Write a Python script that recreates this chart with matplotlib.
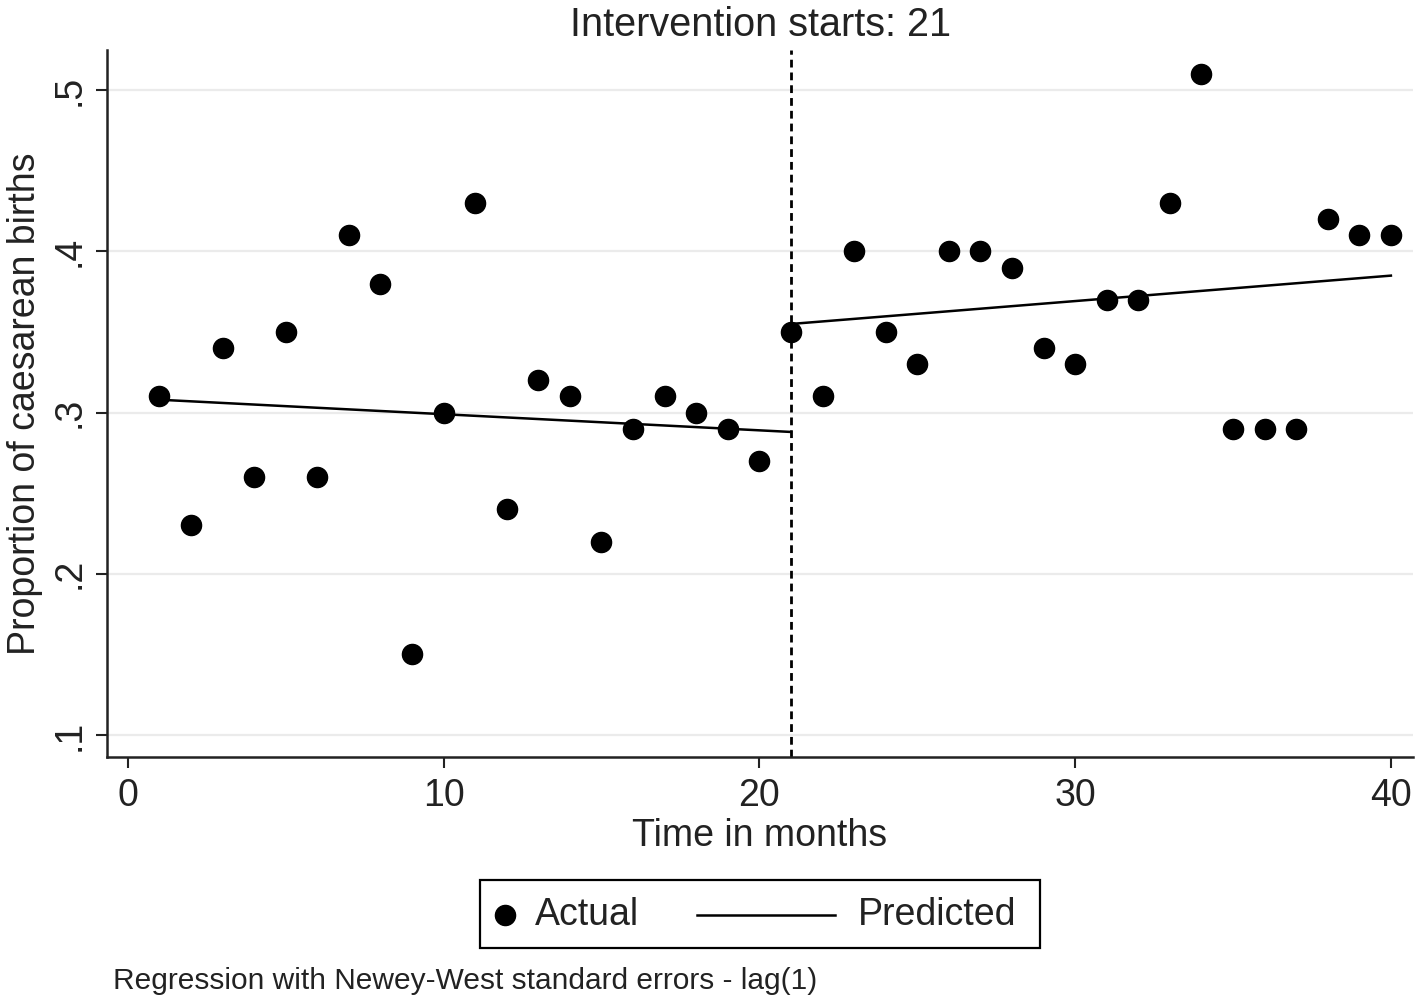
import matplotlib
matplotlib.use("Agg")
import matplotlib.pyplot as plt
from matplotlib.lines import Line2D
from matplotlib.patches import Rectangle

plt.rcParams['font.family'] = ['Liberation Sans', 'DejaVu Sans']

months = list(range(1, 41))
actual = [0.31, 0.23, 0.34, 0.26, 0.35, 0.26, 0.41, 0.38, 0.15, 0.30,
          0.43, 0.24, 0.32, 0.31, 0.22, 0.29, 0.31, 0.30, 0.29, 0.27,
          0.35, 0.31, 0.40, 0.35, 0.33, 0.40, 0.40, 0.39, 0.34, 0.33,
          0.37, 0.37, 0.43, 0.51, 0.29, 0.29, 0.29, 0.42, 0.41, 0.41]
pred_pre_x = [1, 21]
pred_pre_y = [0.308, 0.288]
pred_post_x = [21, 40]
pred_post_y = [0.355, 0.385]
intervention = 21
xticks = [0, 10, 20, 30, 40]
yticks = [0.1, 0.2, 0.3, 0.4, 0.5]
ytick_labels = ['.1', '.2', '.3', '.4', '.5']
legend_labels = ['Actual', 'Predicted']

TXT = '#222222'
W, H = 1418, 1001
fig = plt.figure(figsize=(W / 100, H / 100), dpi=100)
ax = fig.add_axes([107 / W, 1 - 757 / H, (1413 - 107) / W, (757 - 50) / H])

ax.set_xlim(-0.66, 40.7)
ax.set_ylim(0.0863, 0.525)

for s in ['top', 'right']:
    ax.spines[s].set_visible(False)
for s in ['left', 'bottom']:
    ax.spines[s].set_linewidth(1.8)
    ax.spines[s].set_color(TXT)

ax.set_yticks(yticks)
ax.set_yticklabels(ytick_labels, rotation=90, va='center')
ax.set_xticks(xticks)
ax.tick_params(axis='both', labelsize=27, width=1.5, length=8, color=TXT,
               labelcolor=TXT)
ax.tick_params(axis='x', pad=7)
ax.tick_params(axis='y', pad=6)
ax.grid(axis='y', color='#ebebeb', linewidth=1.6)
ax.set_axisbelow(True)

ax.plot(months, actual, 'o', color='black', markersize=14.5, zorder=3)
ax.plot(pred_pre_x, pred_pre_y, color='black', linewidth=1.8, zorder=2)
ax.plot(pred_post_x, pred_post_y, color='black', linewidth=1.8, zorder=2)
ax.axvline(intervention, color='black', linewidth=2, linestyle=(0, (2.8, 1.8)), zorder=2)

ax.set_title('Intervention starts: 21', fontsize=28.5, color=TXT, pad=10)
ax.set_xlabel('Time in months', fontsize=27, color=TXT, labelpad=3)
ax.set_ylabel('Proportion of caesarean births', fontsize=27, color=TXT, labelpad=6)

# legend drawn in figure pixel coordinates
def fx(px):
    return px / W

def fy(py):
    return 1 - py / H

fig.patches.append(Rectangle((fx(480), fy(948)), fx(1040) - fx(480), fy(880) - fy(948),
                             transform=fig.transFigure, fill=False, edgecolor='black',
                             linewidth=1.6))
fig.lines.append(Line2D([fx(505)], [fy(915)], marker='o', color='black', linestyle='none',
                        markersize=14.5, transform=fig.transFigure))
fig.text(fx(535), fy(915), legend_labels[0], fontsize=27, color=TXT, va='center', ha='left')
fig.lines.append(Line2D([fx(697), fx(835)], [fy(915), fy(915)], color='black', linewidth=1.8,
                        transform=fig.transFigure))
fig.text(fx(858), fy(915), legend_labels[1], fontsize=27, color=TXT, va='center', ha='left')

fig.text(113 / W, 1 - 981 / H, 'Regression with Newey-West standard errors - lag(1)',
         fontsize=21.5, color=TXT, va='center', ha='left')

fig.savefig('out.png', dpi=100, facecolor='white')
